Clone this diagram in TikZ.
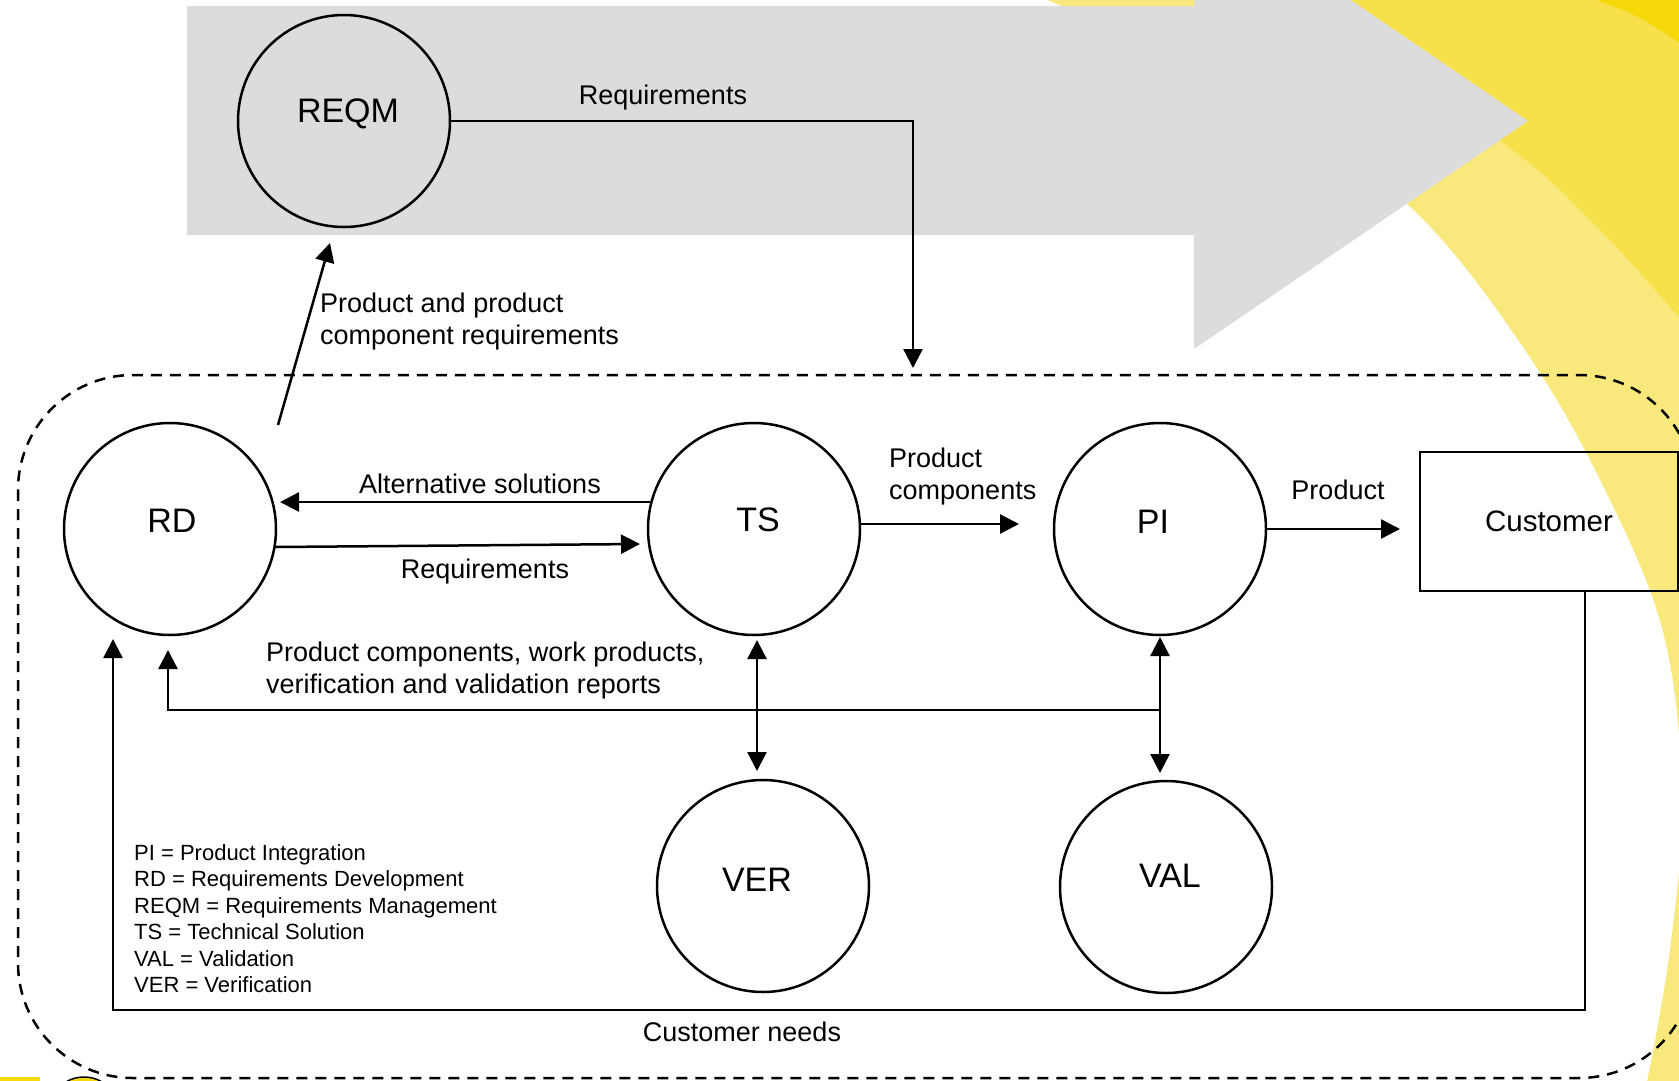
\documentclass[tikz,border=0pt]{standalone}
\usepackage{fontspec}
\setmainfont{Liberation Sans}
\usetikzlibrary{arrows.meta}
\definecolor{graybody}{HTML}{DCDCDC}
\definecolor{ylight}{HTML}{F9E97D}
\definecolor{ymid}{HTML}{F7E14A}
\definecolor{ybright}{HTML}{F5D90A}
\begin{document}
\begin{tikzpicture}[x=1pt,y=-1pt,
  proc/.style={draw, line width=2.5pt, circle, minimum size=212pt, inner sep=0pt},
  ptext/.style={font=\fontsize{34}{40}\selectfont, inner sep=0pt},
  lbl/.style={font=\fontsize{27}{32}\selectfont, inner sep=0pt, align=left},
  legend/.style={font=\fontsize{22}{26.55}\selectfont, inner sep=0pt, align=left},
  conn/.style={line width=2.5pt},
  arr/.style={conn, -{Triangle[length=19pt,width=19pt]}},
  darr/.style={conn, {Triangle[length=19pt,width=19pt]}-{Triangle[length=19pt,width=19pt]}},
  boundary/.style={line width=2.5pt, dash pattern=on 11pt off 8pt},
]
\useasboundingbox (0,0) rectangle (1679,1080);
\clip (0,0) rectangle (1679,1080);
\fill[white] (0,0) rectangle (1679,1080);

% yellow decoration
\fill[ylight] plot[smooth, tension=0.6] coordinates {(1043,-2) (1240,90) (1406,203) (1525,350) (1610,500) (1665,640) (1682,800) (1670,950) (1647,1082)} -- (1700,1082) -- (1700,-2) -- cycle;
\fill[ymid] plot[smooth, tension=0.6] coordinates {(1280,-2) (1499,140) (1600,230) (1690,330)} -- (1700,-2) -- cycle;
\fill[ybright] plot[smooth, tension=0.6] coordinates {(1591,-2) (1640,18) (1690,50)} -- (1700,-2) -- cycle;
\fill[ybright] (0,1077) rectangle (40,1082);
\filldraw[fill=ybright, draw=black, line width=1.5pt] (84,1092) ellipse [x radius=24pt, y radius=15pt];

% big gray arrow
\fill[graybody] (187,6) -- (1194,6) -- (1194,-107) -- (1528,121) -- (1194,349) -- (1194,235) -- (187,235) -- cycle;

% dashed boundary
\draw[boundary, rounded corners=115pt] (18,375) rectangle (1694,1078);

% process circles
\node[proc] (REQM) at (344,121) {};
\node[ptext] (REQMt) at (348,114) {REQM};
\node[proc] (RD) at (170,529) {};
\node[ptext] (RDt) at (172,521) {RD};
\node[proc] (TS) at (754,529) {};
\node[ptext] (TSt) at (758,520) {TS};
\node[proc] (PI) at (1160,529) {};
\node[ptext] (PIt) at (1153,522) {PI};
\node[proc] (VER) at (763,886) {};
\node[ptext] (VERt) at (757,880) {VER};
\node[proc] (VAL) at (1166,887) {};
\node[ptext] (VALt) at (1170,876) {VAL};

% customer
\node[draw, line width=2.5pt, minimum width=258pt, minimum height=139pt, inner sep=0pt,
      font=\fontsize{29.5}{34}\selectfont] (CUST) at (1549,521.5) {Customer};

% connector end points
\coordinate (reqEnd) at (913,368);
\coordinate (rdUp) at (278,425);
\coordinate (reqmIn) at (330,243);
\coordinate (altS) at (650,502);
\coordinate (altE) at (280,502);
\coordinate (rqS) at (275,547);
\coordinate (rqE) at (640,544);
\coordinate (pcS) at (859,524);
\coordinate (pcE) at (1019,524);
\coordinate (prE) at (1400,529);
\coordinate (tsV1) at (757,640);
\coordinate (tsV2) at (757,771);
\coordinate (piV1) at (1160,637);
\coordinate (piV2) at (1160,773);
\coordinate (fbS) at (1160,710);
\coordinate (fbE) at (168,650);
\coordinate (cnCorner) at (1585,1010);
\coordinate (cnE) at (113,639);

% connectors
\draw[arr] (REQM.east) -| (reqEnd);
\draw[arr] (rdUp) -- (reqmIn);
\draw[arr] (altS) -- (altE);
\draw[arr] (rqS) -- (rqE);
\draw[arr] (pcS) -- (pcE);
\draw[arr] (PI.east) -- (prE);
\draw[darr] (tsV1) -- (tsV2);
\draw[darr] (piV1) -- (piV2);
\draw[arr] (fbS) -| (fbE);
\draw[arr] (CUST.south -| cnCorner) -- (cnCorner) -| (cnE);

% labels
\node[lbl] (l1) at (663,98) {Requirements};
\node[lbl, anchor=west] (l2) at (320,321.7) {Product and product\\component requirements};
\node[lbl] (l3) at (480,484) {Alternative solutions};
\node[lbl] (l4) at (485,572) {Requirements};
\node[lbl, anchor=west] (l5) at (889,477) {Product\\components};
\node[lbl] (l6) at (1338,490) {Product};
\node[lbl, anchor=west] (l7) at (266,671) {Product components, work products,\\verification and validation reports};
\node[lbl] (l8) at (742,1032) {Customer needs};
\node[legend, anchor=west] (leg) at (134,918.5) {PI = Product Integration\\RD = Requirements Development\\REQM = Requirements Management\\TS = Technical Solution\\VAL = Validation\\VER = Verification};
\end{tikzpicture}
\end{document}
